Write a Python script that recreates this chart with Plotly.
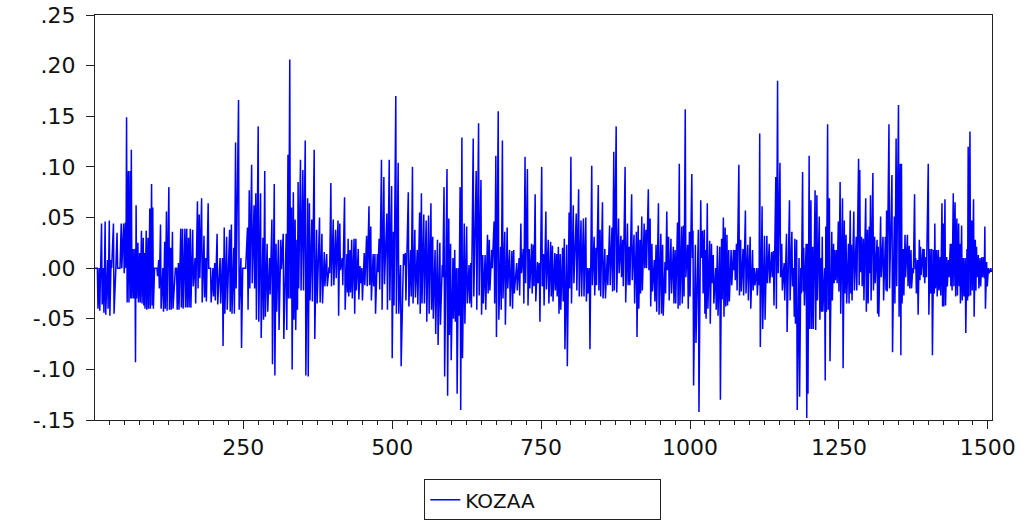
import plotly.graph_objects as go

# Observation numbers of each reading column, with the column's high and low value
obs = [1,5,8,12,15,18,22,25,28,32,35,38,42,45,49,52,54,57,60,62,65,68,70,73,76,79,82,84,87,90,93,96,98,101,105,108,111,115,118,121,125,128,131,135,138,141,145,148,152,155,158,
       161,165,169,173,176,180,184,187,191,195,199,202,206,211,215,218,222,227,230,234,237,242,246,249,253,257,260,264,268,271,275,279,283,286,290,294,298,302,305,309,313,317,322,325,
       328,331,334,337,340,342,346,350,354,358,361,365,369,373,378,382,386,390,394,397,401,405,409,412,416,420,424,426,429,432,436,439,443,446,449,453,457,461,464,468,471,475,478,482,486,491,495,
       499,502,506,510,514,519,522,527,531,534,538,542,546,549,553,557,561,565,568,572,576,580,584,587,592,595,598,602,605,608,611,614,617,621,625,629,632,636,641,645,649,652,656,660,663,
       667,671,674,678,682,685,689,693,697,701,704,709,713,716,720,723,727,730,734,737,740,744,747,751,754,758,762,766,769,773,776,779,782,786,789,793,797,800,804,809,813,817,821,825,828,831,
       835,839,842,846,849,853,857,861,865,869,872,876,880,884,887,891,895,898,902,906,910,913,916,919,923,926,930,933,936,940,943,947,951,954,958,961,964,968,972,975,979,982,986,989,992,996,999,
       1003,1005,1009,1014,1018,1021,1024,1026,1029,1033,1036,1039,1043,1046,1050,1053,1056,1059,1062,1065,1069,1073,1075,1078,1082,1085,1089,1093,1097,1101,1105,1108,1112,1115,1117,1121,1125,1129,1133,1137,1140,1144,1147,1151,1154,1158,
       1162,1167,
       1171,1174,1176,1179,1183,1186,1189,1191,1195,1197,1200,1203,1206,1210,1213,1217,1220,1222,1226,1228,1231,1234,1238,1241,1243,1246,1249,1252,1256,1259,1262,1266,1269,1271,1275,1279,1283,1285,1288,1291,1295,1298,1301,1303,1307,1310,1314,1316,1320,1324,1328,1330,1334,
       1339,1343,1346,1350,1353,1355,1358,1361,1365,1368,1371,1374,1377,1379,1382,1385,1387,1391,1393,1396,1400,1403,1406,1409,1411,1414,1417,1420,1423,1425,1428,1431,1434,1437,1439,1442,1445,1448,1451,1453,1456,1459,1462,1465,1467,1470,1473,1476,1479,1481,1484,1487,1490,1493,1495,1498,1501,1505]

kozaa_high = [0,0,0,.044,0,.046,.008,.047,.008,.044,0,.035,0,.044,.044,.045,.149,.096,.096,.117,.019,.019,.062,.025,.015,.037,.030,.015,.037,.030,.059,.083,.060,0,0,.008,.043,0,.026,.056,.080,.020,.036,0,0,.005,.039,.039,.039,.039,.030,
              .039,.038,.010,.066,.053,.069,.032,.010,.064,0,0,.005,.034,.010,.010,.040,.031,.038,.043,.020,.124,.166,.010,0,0,.040,.077,.102,.062,.074,.140,.074,.030,.096,.024,.010,.048,.083,.024,.028,.028,.034,.034,.112,
              .206,.060,.075,.048,.028,.085,.107,.097,.126,.069,.064,.048,.117,.038,.050,.034,.016,.014,.001,.084,.048,.038,.047,.044,.010,.070,.014,.029,.018,.028,.029,.029,.019,.002,0,.015,.032,.061,.041,.014,.014,.014,.029,.107,.090,.054,.107,
              .081,.036,.170,.104,.003,.014,.015,.075,.018,.100,.038,.018,.055,.074,.053,.047,.052,.064,.031,.018,.028,.025,.003,.080,.098,.049,.024,.010,.018,0,0,.080,.129,.044,.041,.003,.005,.128,.096,.143,.087,.013,.013,.033,.028,
              .018,.046,.111,.155,.021,.126,.036,.040,.018,.017,.018,.005,.010,.044,.019,.110,.098,.019,.024,.023,.073,.006,.005,.100,.014,.056,.028,.026,.022,.015,.014,.021,.014,.020,.029,.023,.055,.110,.062,.054,.078,.047,.049,.050,0,0,
              .101,.031,.020,.082,.038,.065,.019,.013,.042,.040,.115,.140,.049,.032,.028,.100,.044,.021,.073,.033,.036,.042,.028,.051,.044,.038,.078,.049,.024,.008,.023,.064,.034,.023,.006,.056,.031,.029,.021,.018,.045,.103,.041,.042,.157,.023,.036,
              .093,.037,.023,.038,.067,.037,.038,.018,.064,.027,.024,.013,0,.022,.021,.029,.050,.040,.033,.018,.018,.018,.018,.024,.102,.028,.019,.057,.023,.031,.018,0,0,0,.133,.061,.032,.032,.024,.016,.017,.090,.185,.104,.024,.005,
              .034,.067,
              .036,0,.029,.028,.010,0,.095,.020,.024,.024,.111,.067,.021,.077,.072,.051,.010,.031,0,.041,.142,.069,.036,.024,.018,.018,.046,.085,.069,.047,.033,.024,.057,.023,.056,.031,.108,.097,.031,.029,.069,.038,.041,.072,.094,.031,.028,.021,.051,.031,.031,.057,.142,
              .092,.051,.128,.161,.103,.103,.019,.033,.033,.022,.018,0,.073,.010,.008,.028,.021,.019,.019,.011,.103,.019,.019,.018,.044,.018,.018,.011,.064,.044,.068,.011,.008,.024,.024,.074,.065,.049,.044,.024,.042,.010,.010,.019,.120,.135,.047,.068,.028,.021,.013,.010,.011,.011,.041,.006,0,0]

kozaa_low = [0,-.040,-.042,-.036,-.044,-.046,-.040,-.047,0,-.045,0,0,0,0,-.005,0,-.034,-.034,-.030,-.030,-.030,-.093,-.030,-.034,-.034,-.035,-.037,-.040,-.041,-.040,-.040,-.037,-.040,0,-.008,-.020,-.040,-.043,-.040,-.042,-.041,-.041,-.040,0,-.041,-.041,-.039,-.040,-.039,-.039,-.039,
             -.039,-.018,-.035,-.020,-.010,-.034,-.029,-.033,0,-.034,-.028,-.032,-.036,-.035,-.077,-.045,-.041,-.043,-.045,-.045,-.020,-.041,-.079,0,0,-.041,-.020,-.015,-.020,-.051,-.053,-.069,-.051,-.048,-.043,-.026,-.095,-.106,-.043,-.061,-.001,-.070,-.061,-.030,
             -.030,-.100,-.051,-.061,-.041,-.020,-.022,-.022,-.106,-.107,-.032,-.033,-.070,-.035,-.034,-.035,-.018,-.018,-.005,-.018,-.017,-.010,-.047,-.002,-.017,-.041,-.024,-.028,-.024,-.030,-.045,-.022,-.031,-.015,-.032,-.017,-.018,-.017,-.032,-.018,-.045,-.004,-.021,-.041,-.016,-.041,-.032,
             -.089,-.037,-.045,-.045,-.097,.003,-.032,-.038,-.028,-.035,-.029,-.036,-.045,-.035,-.035,-.053,-.045,-.041,-.050,-.065,-.076,-.056,-.009,-.107,-.126,-.066,-.091,-.050,-.053,-.124,-.047,-.140,-.089,-.055,-.035,-.035,-.039,-.028,-.041,-.027,-.046,-.035,-.041,-.025,-.022,
             0,-.035,-.068,-.051,-.041,-.030,-.056,-.020,-.038,-.040,-.025,-.022,-.027,-.005,-.035,-.015,-.037,-.020,-.025,-.018,-.033,-.015,-.053,-.018,-.037,-.021,-.035,-.028,-.033,-.022,-.028,-.045,-.041,-.033,-.080,-.097,-.020,-.035,-.015,-.022,-.028,-.028,-.028,-.033,-.025,-.080,
             -.017,-.027,-.017,-.022,-.028,-.030,-.030,-.017,-.017,-.023,-.022,-.024,-.005,-.009,-.018,-.034,-.017,-.017,-.012,-.035,-.068,-.040,-.025,-.022,0,0,-.002,-.038,-.023,-.033,-.043,-.046,-.045,-.047,-.025,-.002,-.032,-.025,-.035,-.035,-.040,-.037,-.035,-.028,-.009,-.040,-.028,
             .010,-.116,-.074,-.142,.010,-.025,-.045,-.050,-.040,-.055,-.015,-.035,-.041,-.047,-.130,-.031,-.048,-.038,-.037,-.033,-.017,-.002,-.012,-.022,-.027,-.023,-.027,-.025,-.032,-.040,-.022,-.017,-.027,-.017,-.078,-.060,-.051,-.015,-.015,-.009,-.037,-.040,-.005,-.009,-.022,-.032,
             -.063,-.032,
             -.018,-.048,-.055,-.140,-.127,-.025,-.023,-.037,-.148,-.124,-.060,-.060,-.060,-.061,-.032,-.051,-.043,-.043,-.111,-.043,-.041,-.092,-.032,-.015,-.012,-.015,-.023,-.045,-.099,-.025,-.035,-.035,-.025,-.032,-.022,-.022,-.017,-.004,-.018,-.032,-.043,-.035,-.005,-.032,-.022,-.015,-.045,-.048,-.009,-.032,-.022,-.023,-.020,
             -.083,-.035,-.018,-.048,-.086,-.035,-.027,-.009,-.018,-.020,-.020,-.005,-.001,-.025,-.046,-.012,-.007,-.009,-.015,-.009,-.046,-.025,-.086,-.025,-.020,-.028,-.022,-.027,-.038,-.038,-.037,-.018,-.009,-.018,-.022,-.018,-.028,-.027,-.018,-.035,-.032,-.028,-.064,-.032,-.028,-.027,-.022,-.048,-.022,-.009,-.020,-.018,-.009,-.010,-.040,-.018,-.005,-.004]

x_tick_vals = [250, 500, 750, 1000, 1250, 1500]
x_tick_text = ["250", "500", "750", "1000", "1250", "1500"]
y_tick_vals = [-0.15, -0.10, -0.05, 0.00, 0.05, 0.10, 0.15, 0.20, 0.25]
y_tick_text = ["-.15", "-.10", "-.05", ".00", ".05", ".10", ".15", ".20", ".25"]
series_name = "KOZAA"

# each reading column: high first, then low on the following observation
xs, ys = [], []
for o, h, l in zip(obs, kozaa_high, kozaa_low):
    xs += [o, o + 1]
    ys += [h, l]

FONT = "DejaVu Sans"

fig = go.Figure(go.Scatter(x=xs, y=ys, mode="lines", name=series_name,
                           line=dict(color="#0000FF", width=1.5)))

axis_common = dict(showline=True, linecolor="#222222", linewidth=1, mirror=True,
                   showgrid=False, zeroline=False, ticks="outside", ticklen=8,
                   tickcolor="#222222", automargin=False,
                   tickfont=dict(family=FONT, size=22, color="#111111"))

fig.update_layout(
    width=1034, height=522,
    margin=dict(l=95, r=42, t=15, b=102),
    paper_bgcolor="white", plot_bgcolor="white",
    showlegend=True,
    legend=dict(orientation="h", x=0.525, xanchor="center", xref="container",
                y=0.082, yanchor="top", yref="container",
                bordercolor="#222222", borderwidth=1,
                font=dict(family=FONT, size=20, color="#111111"),
                entrywidth=190),
    xaxis=dict(range=[1, 1507], tickmode="array", tickvals=x_tick_vals, ticktext=x_tick_text,
               minor=dict(dtick=25, tick0=0, ticks="outside", ticklen=4, tickcolor="#222222"),
               **axis_common),
    yaxis=dict(range=[-0.15, 0.25], tickmode="array", tickvals=y_tick_vals, ticktext=y_tick_text,
               ticklabelstandoff=6, **axis_common),
)

fig.write_html("out.html")
